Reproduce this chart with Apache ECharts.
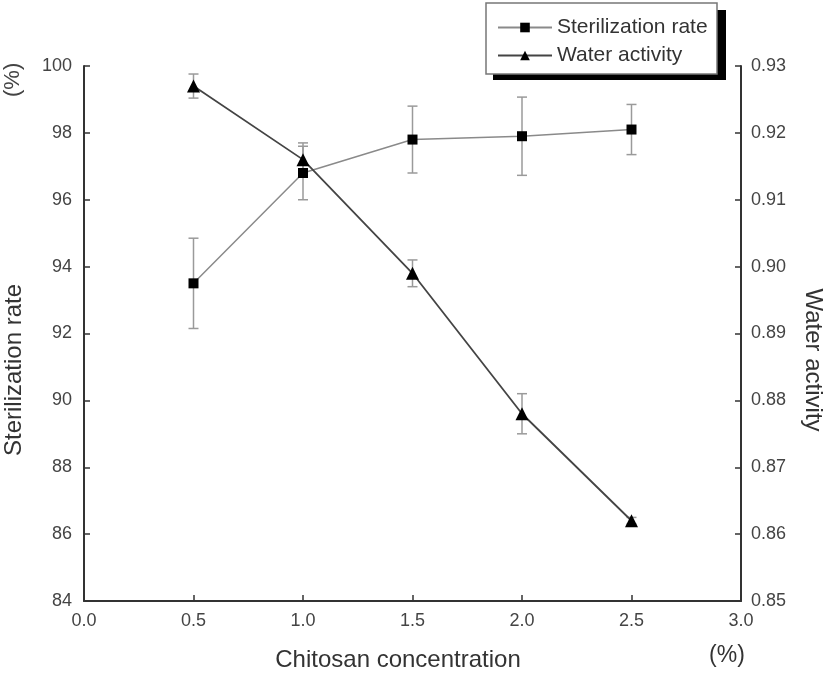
<!DOCTYPE html>
<html>
<head>
<meta charset="utf-8">
<script src="https://cdn.jsdelivr.net/npm/echarts@6/dist/echarts.min.js"></script>
<style>
html,body{margin:0;padding:0;background:#fff;}
#chart{width:827px;height:676px;}
</style>
</head>
<body>
<div id="chart"></div>
<script>
const xValues = [0.5, 1.0, 1.5, 2.0, 2.5];
const sterilization = [93.5, 96.8, 97.8, 97.9, 98.1];
const sterilizationErr = [1.35, 0.8, 1.0, 1.17, 0.75];
const waterActivity = [0.927, 0.916, 0.899, 0.878, 0.862];
const waterActivityErr = [0.0018, 0.0025, 0.002, 0.003, 0.0005];
const seriesNames = ['Sterilization rate', 'Water activity'];

const FONT = 'Liberation Sans, Arial, sans-serif';
const chart = echarts.init(document.getElementById('chart'));

function errData(vals, errs) {
  return xValues.map((x, i) => [x, vals[i] - errs[i], vals[i] + errs[i]]);
}
function errRender(params, api) {
  const x = api.value(0);
  const lo = api.coord([x, api.value(1)]);
  const hi = api.coord([x, api.value(2)]);
  const cap = 5;
  const style = { stroke: '#9a9a9a', lineWidth: 1.5 };
  return {
    type: 'group',
    children: [
      { type: 'line', shape: { x1: lo[0], y1: lo[1], x2: hi[0], y2: hi[1] }, style },
      { type: 'line', shape: { x1: lo[0] - cap, y1: lo[1], x2: lo[0] + cap, y2: lo[1] }, style },
      { type: 'line', shape: { x1: hi[0] - cap, y1: hi[1], x2: hi[0] + cap, y2: hi[1] }, style }
    ]
  };
}

const axisCommon = {
  axisLine: { show: true, lineStyle: { color: '#333', width: 2 } },
  axisTick: { show: true, inside: true, length: 6, lineStyle: { color: '#333', width: 1.5 } },
  splitLine: { show: false },
  axisLabel: { color: '#444', fontSize: 18, fontFamily: FONT }
};

chart.setOption({
  animation: false,
  backgroundColor: '#fff',
  grid: { left: 84, right: 86, top: 66, bottom: 75, containLabel: false },
  xAxis: Object.assign({}, axisCommon, {
    type: 'value', min: 0, max: 3, interval: 0.5,
    axisLabel: Object.assign({}, axisCommon.axisLabel, { margin: 11, formatter: v => v.toFixed(1) })
  }),
  yAxis: [
    Object.assign({}, axisCommon, {
      type: 'value', min: 84, max: 100, interval: 2, position: 'left',
      axisLabel: Object.assign({}, axisCommon.axisLabel, { margin: 12 })
    }),
    Object.assign({}, axisCommon, {
      type: 'value', min: 0.85, max: 0.93, interval: 0.01, position: 'right',
      axisLabel: Object.assign({}, axisCommon.axisLabel, { margin: 10, formatter: v => v.toFixed(2) })
    })
  ],
  legend: {
    orient: 'vertical', left: 492, top: 12, itemWidth: 54, itemHeight: 12, itemGap: 7,
    textStyle: { fontSize: 21, color: '#333', fontFamily: FONT },
    data: seriesNames, z: 10, selectedMode: false
  },
  graphic: [
    { type: 'rect', shape: { x: 493, y: 10, width: 233, height: 70 }, style: { fill: '#000' }, z: 1 },
    { type: 'rect', shape: { x: 486, y: 3, width: 231, height: 71 }, style: { fill: '#fff', stroke: '#777', lineWidth: 1.5 }, z: 2 },
    { type: 'text', x: 13, y: 97, rotation: Math.PI / 2, style: { text: '(%)', fontSize: 22, fontFamily: FONT, fill: '#444', textAlign: 'left', textVerticalAlign: 'middle' }, z: 5 },
    { type: 'text', x: 14, y: 370, rotation: Math.PI / 2, style: { text: 'Sterilization rate', fontSize: 24, fontFamily: FONT, fill: '#333', textAlign: 'center', textVerticalAlign: 'middle' }, z: 5 },
    { type: 'text', x: 813, y: 360, rotation: -Math.PI / 2, style: { text: 'Water activity', fontSize: 24, fontFamily: FONT, fill: '#333', textAlign: 'center', textVerticalAlign: 'middle' }, z: 5 },
    { type: 'text', x: 398, y: 660, style: { text: 'Chitosan concentration', fontSize: 24, fontFamily: FONT, fill: '#333', textAlign: 'center', textVerticalAlign: 'middle' }, z: 5 },
    { type: 'text', x: 727, y: 656, style: { text: '(%)', fontSize: 23, fontFamily: FONT, fill: '#333', textAlign: 'center', textVerticalAlign: 'middle' }, z: 5 }
  ],
  series: [
    {
      type: 'custom', yAxisIndex: 0, renderItem: errRender,
      data: errData(sterilization, sterilizationErr), z: 1, silent: true
    },
    {
      type: 'custom', yAxisIndex: 1, renderItem: errRender,
      data: errData(waterActivity, waterActivityErr), z: 1, silent: true
    },
    {
      name: seriesNames[0], type: 'line', yAxisIndex: 0,
      data: xValues.map((x, i) => [x, sterilization[i]]),
      symbol: 'rect', symbolSize: 10,
      itemStyle: { color: '#000' },
      lineStyle: { color: '#8a8a8a', width: 1.5 }, z: 3
    },
    {
      name: seriesNames[1], type: 'line', yAxisIndex: 1,
      data: xValues.map((x, i) => [x, waterActivity[i]]),
      symbol: 'triangle', symbolSize: 13,
      itemStyle: { color: '#000' },
      lineStyle: { color: '#444', width: 1.8 }, z: 4
    }
  ]
});
</script>
</body>
</html>
